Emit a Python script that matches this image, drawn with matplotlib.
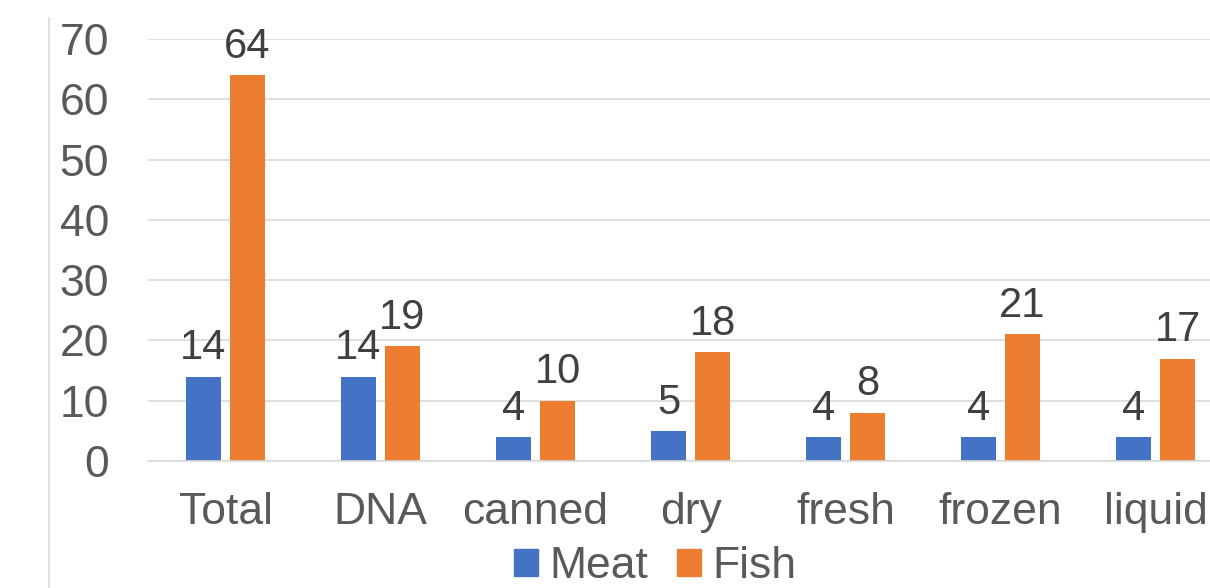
import matplotlib.pyplot as plt
from matplotlib.lines import Line2D
from matplotlib.patches import Patch
import numpy as np

plt.rcParams["font.family"] = ["Liberation Sans", "DejaVu Sans"]

categories = ["Total", "DNA", "canned", "dry", "fresh", "frozen", "liquid"]
meat = [14, 14, 4, 5, 4, 4, 4]
fish = [64, 19, 10, 18, 8, 21, 17]

BLUE = "#4472C4"
ORANGE = "#ED7D31"
TEXT = "#595959"
GRID = "#D9D9D9"

fig = plt.figure(figsize=(12.1, 5.88), dpi=100)
ax = fig.add_axes([148 / 1210, 1 - 461 / 588, 1085 / 1210, 422 / 588])

x = np.arange(len(categories))
w = 0.226
off = 0.142
b1 = ax.bar(x - off, meat, w, color=BLUE, label="Meat")
b2 = ax.bar(x + off, fish, w, color=ORANGE, label="Fish")

for bars in (b1, b2):
    ax.bar_label(bars, padding=6, fontsize=30, color="#404040")

ax.set_xlim(-0.5, len(categories) - 0.5)
ax.set_ylim(0, 70)
ax.set_yticks(range(0, 71, 10))
ax.set_xticks(x)
ax.set_xticklabels(categories)
ax.yaxis.grid(True, color=GRID, linewidth=1.2)
ax.set_axisbelow(True)
for s in ["top", "right", "left"]:
    ax.spines[s].set_visible(False)
ax.spines["bottom"].set_color(GRID)
ax.spines["bottom"].set_linewidth(1.2)
ax.tick_params(axis="both", length=0, labelsize=32, labelcolor=TEXT)
ax.tick_params(axis="x", pad=22)
ax.tick_params(axis="y", pad=28)

handles = [Patch(color=BLUE, label="Meat"), Patch(color=ORANGE, label="Fish")]
fig.legend(handles=handles, loc="center", bbox_to_anchor=(655 / 1210, 1 - 567 / 588),
           ncol=2, frameon=False, fontsize=32, labelcolor=TEXT,
           handlelength=0.55, handleheight=0.55, handletextpad=0.25, columnspacing=0.65,
           borderpad=0)

fig.add_artist(Line2D([49 / 1210, 49 / 1210], [0, 1 - 18 / 588],
                      transform=fig.transFigure, color=GRID, linewidth=1.2))

fig.savefig("out.png", dpi=100)
